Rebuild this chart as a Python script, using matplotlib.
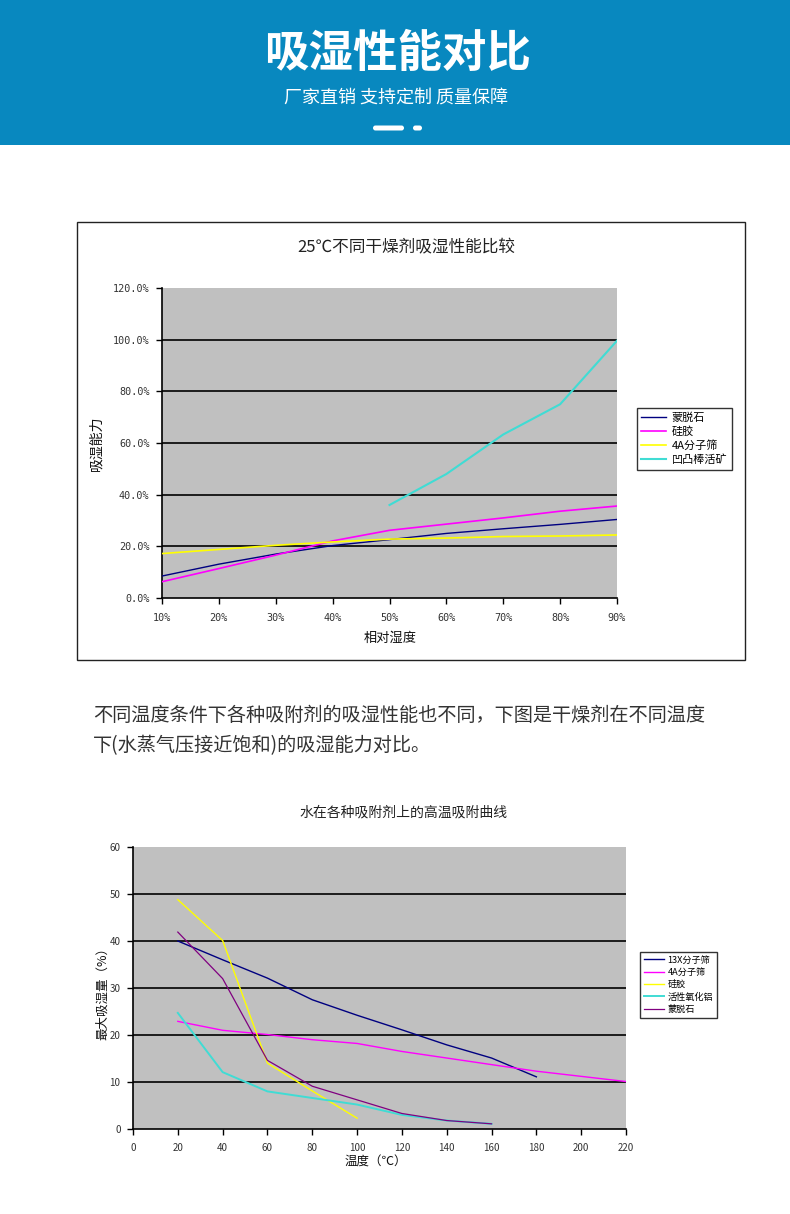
import matplotlib
matplotlib.use("Agg")
import matplotlib.pyplot as plt
from matplotlib.patches import Rectangle, FancyBboxPatch

plt.rcParams['font.family'] = ['Noto Sans CJK SC', 'DejaVu Sans']

# ---------------- data: chart 1 ----------------
rh = [10, 20, 30, 40, 50, 60, 70, 80, 90]
rh_labels = ["10%", "20%", "30%", "40%", "50%", "60%", "70%", "80%", "90%"]
montmorillonite1 = [8.5, 13.1, 17.0, 20.3, 22.6, 25.0, 26.8, 28.5, 30.4]
silica1 = [6.3, 11.4, 16.6, 22.1, 26.2, 28.6, 31.0, 33.6, 35.6]
sieve4a1 = [17.2, 18.8, 20.4, 21.7, 22.8, 23.2, 23.8, 24.0, 24.4]
attap_rh = [50, 60, 70, 80, 90]
attapulgite1 = [36.0, 48.0, 63.3, 75.0, 99.6]
y1_ticks = [0, 20, 40, 60, 80, 100, 120]
y1_labels = ["0.0%", "20.0%", "40.0%", "60.0%", "80.0%", "100.0%", "120.0%"]
names1 = ["蒙脱石", "硅胶", "4A分子筛", "凹凸棒活矿"]

# ---------------- data: chart 2 ----------------
temp = [20, 40, 60, 80, 100, 120, 140, 160, 180, 200, 220]
sieve13x = [40.0, 36.0, 32.1, 27.5, 24.2, 21.1, 17.9, 15.1, 11.1]
sieve4a2 = [22.9, 21.0, 20.1, 19.0, 18.2, 16.5, 15.1, 13.7, 12.3, 11.2, 10.1]
silica2 = [48.8, 40.1, 14.0, 8.1, 2.3]
alumina = [24.7, 12.1, 8.0, 6.6, 5.2, 3.0, 1.8, 1.1]
montmorillonite2 = [41.9, 32.0, 14.6, 9.1, 6.2, 3.3, 1.8, 1.1]
names2 = ["13X分子筛", "4A分子筛", "硅胶", "活性氧化铝", "蒙脱石"]

W, H = 790, 1214
fig = plt.figure(figsize=(W / 100, H / 100), dpi=100)
fig.patch.set_facecolor("white")

bg = fig.add_axes([0, 0, 1, 1], zorder=-5)
bg.set_xlim(0, W)
bg.set_ylim(H, 0)
bg.axis("off")

# header
bg.add_patch(Rectangle((0, 0), W, 145, color="#0888bf", lw=0))
bg.text(398, 54, "吸湿性能对比", color="white", fontsize=32, fontweight="bold",
        ha="center", va="center")
bg.text(396, 99, "厂家直销 支持定制 质量保障", color="white", fontsize=13,
        ha="center", va="center")
bg.add_patch(FancyBboxPatch((373, 125.5), 31, 5, boxstyle="round,pad=0,rounding_size=2.5",
                            color="white", lw=0))
bg.add_patch(FancyBboxPatch((413, 125.5), 9, 5, boxstyle="round,pad=0,rounding_size=2.5",
                            color="white", lw=0))

# chart 1 frame and texts
bg.add_patch(Rectangle((77, 222), 668, 438, fill=False, ec="#222222", lw=1))
bg.text(406, 248, "25℃不同干燥剂吸湿性能比较", fontsize=12, color="#222222",
        ha="center", va="center")
bg.text(96, 443, "吸湿能力", fontsize=10, rotation=90, ha="center", va="center",
        color="#111111")
bg.text(390, 638, "相对湿度", fontsize=9.5, ha="center", va="center", color="#111111")

# paragraph
bg.text(93, 715, "不同温度条件下各种吸附剂的吸湿性能也不同，下图是干燥剂在不同温度",
        fontsize=13.8, ha="left", va="center", color="#333333")
bg.text(93, 746, "下(水蒸气压接近饱和)的吸湿能力对比。",
        fontsize=13.8, ha="left", va="center", color="#333333")

# chart 2 texts
bg.text(404, 813, "水在各种吸附剂上的高温吸附曲线", fontsize=10, ha="center",
        va="center", color="#222222")
bg.text(103, 990, "最大吸湿量（%）", fontsize=9, rotation=90, ha="center",
        va="center", color="#111111")
bg.text(376, 1162, "温度（℃）", fontsize=9, ha="center", va="center", color="#111111")

GRAY = "#c0c0c0"
NAVY = "#000080"
MAG = "#ff00ff"
YEL = "#ffff00"
CYAN = "#40dcd4"
PURP = "#800080"
TICKC = "#333333"


def ax_rect(x0, y0, x1, y1):
    return [x0 / W, 1 - y1 / H, (x1 - x0) / W, (y1 - y0) / H]


# ---------------- chart 1 ----------------
ax1 = fig.add_axes(ax_rect(162, 288, 617, 598))
ax1.set_facecolor(GRAY)
ax1.set_xlim(10, 90)
ax1.set_ylim(0, 120)
for v in y1_ticks[1:-1]:
    ax1.axhline(v, color="black", lw=1.2, zorder=1)
l1, = ax1.plot(rh, montmorillonite1, color=NAVY, lw=1.0, zorder=3)
l2, = ax1.plot(rh, silica1, color=MAG, lw=1.2, zorder=3)
l3, = ax1.plot(rh, sieve4a1, color=YEL, lw=1.2, zorder=3)
l4, = ax1.plot(attap_rh, attapulgite1, color=CYAN, lw=1.5, zorder=3)
for s in ["top", "right"]:
    ax1.spines[s].set_visible(False)
for s in ["left", "bottom"]:
    ax1.spines[s].set_color("black")
    ax1.spines[s].set_linewidth(1.2)
ax1.set_xticks(rh)
ax1.set_xticklabels(rh_labels)
ax1.set_yticks(y1_ticks)
ax1.set_yticklabels(y1_labels)
ax1.tick_params(axis="both", direction="out", length=4, width=1, color="black",
                labelsize=7.3, labelcolor=TICKC, pad=5)
ax1.tick_params(axis="x", pad=7)
for t in ax1.get_xticklabels() + ax1.get_yticklabels():
    t.set_family("DejaVu Sans Mono")
leg1 = ax1.legend([l1, l2, l3, l4], names1, loc="upper left",
                  bbox_to_anchor=(637 / W, 1 - 408 / H), bbox_transform=fig.transFigure,
                  fontsize=8, frameon=True, fancybox=False, edgecolor="black",
                  handlelength=2.2, handletextpad=0.5, borderpad=0.4, labelspacing=0.3,
                  borderaxespad=0)
leg1.get_frame().set_linewidth(1.0)

# ---------------- chart 2 ----------------
ax2 = fig.add_axes(ax_rect(133, 847, 626, 1129))
ax2.set_facecolor(GRAY)
ax2.set_xlim(0, 220)
ax2.set_ylim(0, 60)
for v in [10, 20, 30, 40, 50]:
    ax2.axhline(v, color="black", lw=1.2, zorder=1)
m1, = ax2.plot(temp[:len(sieve13x)], sieve13x, color=NAVY, lw=1.0, zorder=3)
m2, = ax2.plot(temp[:len(sieve4a2)], sieve4a2, color=MAG, lw=1.0, zorder=3)
m3, = ax2.plot(temp[:len(silica2)], silica2, color=YEL, lw=1.0, zorder=3)
m4, = ax2.plot(temp[:len(alumina)], alumina, color=CYAN, lw=1.4, zorder=3)
m5, = ax2.plot(temp[:len(montmorillonite2)], montmorillonite2, color=PURP, lw=0.9, zorder=4)
for s in ["top", "right"]:
    ax2.spines[s].set_visible(False)
for s in ["left", "bottom"]:
    ax2.spines[s].set_color("black")
    ax2.spines[s].set_linewidth(1.2)
ax2.set_xticks(range(0, 221, 20))
ax2.set_yticks(range(0, 61, 10))
ax2.tick_params(axis="both", direction="out", length=4, width=1, color="black",
                labelsize=7, labelcolor=TICKC, pad=5)
ax2.tick_params(axis="x", pad=6)
leg2 = ax2.legend([m1, m2, m3, m4, m5], names2, loc="upper left",
                  bbox_to_anchor=(640 / W, 1 - 952 / H), bbox_transform=fig.transFigure,
                  fontsize=6.6, frameon=True, fancybox=False, edgecolor="black",
                  handlelength=2.2, handletextpad=0.4, borderpad=0.4, labelspacing=0.35,
                  borderaxespad=0)
leg2.get_frame().set_linewidth(1.0)

fig.savefig("out.png", dpi=100, facecolor="white")
